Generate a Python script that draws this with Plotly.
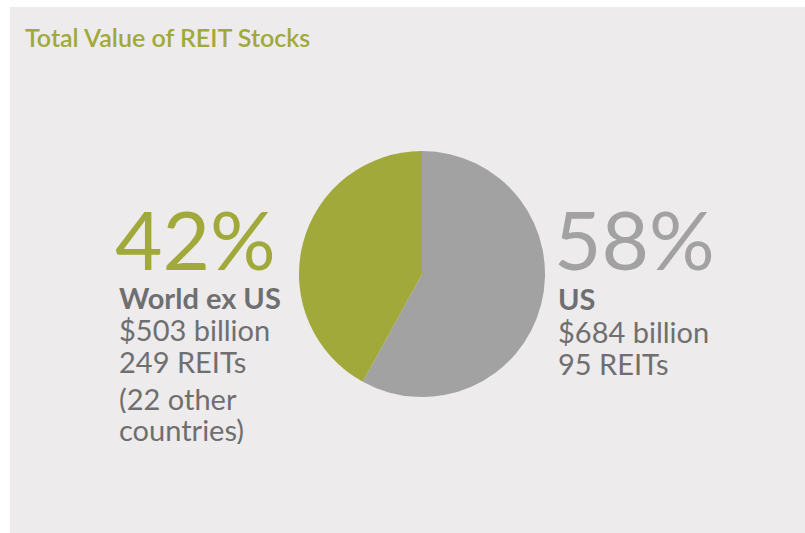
import plotly.graph_objects as go

W, H = 805, 533

title = "Total Value of REIT Stocks"
labels = ["US", "World ex US"]
shares = [58, 42]
values_bn = [684, 503]
reit_counts = [95, 249]
colors = ["#a2a2a3", "#a0a93a"]

GREEN = "#a0a93a"
GRAY_TXT = "#6f6f70"
GRAY_PCT = "#a2a2a3"
PANEL = "#edebec"

def px(x):
    return x / W

def py(y):
    return 1 - y / H

fig = go.Figure()
fig.add_trace(go.Pie(
    labels=labels,
    values=shares,
    sort=False,
    direction="clockwise",
    rotation=0,
    marker=dict(colors=colors, line=dict(width=0)),
    textinfo="none",
    hoverinfo="label+percent",
    showlegend=False,
    domain=dict(x=[px(299), px(545)], y=[py(397), py(151)]),
))

fig.add_shape(type="rect", xref="paper", yref="paper",
              x0=px(10), x1=px(805), y0=py(533), y1=py(7),
              fillcolor=PANEL, line=dict(width=0), layer="below")

ann = []
def add(text, x, y, size, color, weight=400, h=None):
    ann.append(dict(text=text, x=px(x), y=py(y), xref="paper", yref="paper",
                    xanchor="left", yanchor="middle", showarrow=False,
                    height=h, valign="middle",
                    font=dict(family="Lato", size=size, color=color, weight=weight)))

add(title, 23, 37, 25, GREEN, 600)

# World ex US (left)
add(f"{shares[1]}%", 113, 238, 82, GREEN, 400, 80)
add(labels[1], 117, 297, 29, GRAY_TXT, 700, 30)
add(f"${values_bn[1]} billion", 117, 329, 29, GRAY_TXT, 400, 30)
add(f"{reit_counts[1]} REITs", 117, 361, 29, GRAY_TXT, 400, 30)
add("(22 other", 117, 398, 29, GRAY_TXT, 400, 30)
add("countries)", 117, 429, 29, GRAY_TXT, 400, 30)

# US (right)
add(f"{shares[0]}%", 552, 238, 82, GRAY_PCT, 400, 80)
add(labels[0], 556, 298, 29, GRAY_TXT, 700, 30)
add(f"${values_bn[0]} billion", 556, 331, 29, GRAY_TXT, 400, 30)
add(f"{reit_counts[0]} REITs", 556, 363, 29, GRAY_TXT, 400, 30)

fig.update_layout(
    width=W, height=H,
    margin=dict(l=0, r=0, t=0, b=0),
    paper_bgcolor="white",
    plot_bgcolor="white",
    annotations=ann,
)

fig.write_html("out.html", config={"displayModeBar": False},
               post_script="document.body.style.margin='0px';")
